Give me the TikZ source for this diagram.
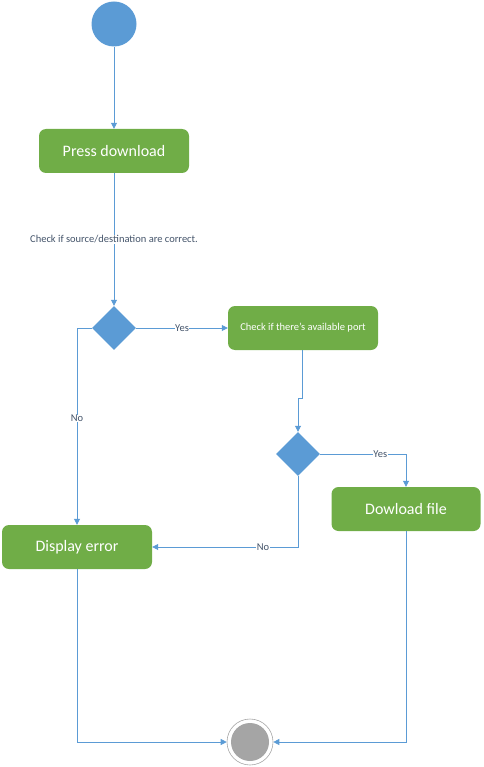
\documentclass[tikz,border=0pt]{standalone}
\usepackage{fontspec}
\setmainfont{Carlito}
\usetikzlibrary{shapes.geometric,arrows.meta}
\definecolor{actgreen}{HTML}{70AD47}
\definecolor{flowblue}{HTML}{5B9BD5}
\definecolor{endgray}{HTML}{A5A5A5}
\definecolor{labelink}{HTML}{44546A}

\begin{document}
\begin{tikzpicture}[x=1pt,y=-1pt]
    \tikzstyle{action}=[rectangle,rounded corners=7pt,fill=actgreen,text=white,
        minimum width=150pt,minimum height=44pt,inner sep=0pt]
    \tikzstyle{decide}=[diamond,fill=flowblue,minimum width=44pt,minimum height=44pt,inner sep=0pt]
    \tikzstyle{flow}=[draw=flowblue,line width=0.8pt,-{Triangle[length=6pt,width=6pt]}]
    \tikzstyle{guard}=[fill=white,text=labelink,font=\fontsize{10.5}{12}\selectfont,inner sep=0.5pt]

    \useasboundingbox (0,0) rectangle (483,767);

    % nodes
    \node[circle,fill=flowblue,minimum size=45pt,inner sep=0pt] (start) at (114,24) {};
    \node[action,font=\fontsize{16}{18}\selectfont] (press) at (114,151) {Press download};
    \node[decide] (d1) at (114,328) {};
    \node[action,font=\fontsize{10.5}{12}\selectfont] (chk) at (303,328) {Check if there's available port};
    \node[decide] (d2) at (298,454) {};
    \node[action,font=\fontsize{16}{18}\selectfont,minimum width=149pt] (dl) at (406,509) {Dowload file};
    \node[action,font=\fontsize{16}{18}\selectfont] (err) at (77,547) {Display error};
    \node[circle,draw=endgray,line width=0.6pt,minimum size=46pt,inner sep=0pt] (end) at (250,742) {};
    \fill[endgray] (end.center) circle (19pt);

    % connectors
    \draw[flow] (start) -- (press);
    \draw[flow] (press) -- node[guard,pos=0.5] {Check if source/destination are correct.} (d1.north);
    \draw[flow] (d1.east) -- node[guard] {Yes} (chk.west);
    \draw[flow] (d1.west) -| node[guard,pos=0.73] {No} (err.north);
    \draw[flow] ([xshift=-1pt]chk.south) -- ([xshift=-1pt]chk.south |- 0,398) -| (d2.north);
    \draw[flow] (d2.east) -| node[guard,pos=0.35] {Yes} (dl.north);
    \draw[flow] (d2.south) |- node[guard,pos=0.62] {No} (err.east);
    \draw[flow] (err.south) |- (end.west);
    \draw[flow] (dl.south) |- (end.east);
\end{tikzpicture}
\end{document}
